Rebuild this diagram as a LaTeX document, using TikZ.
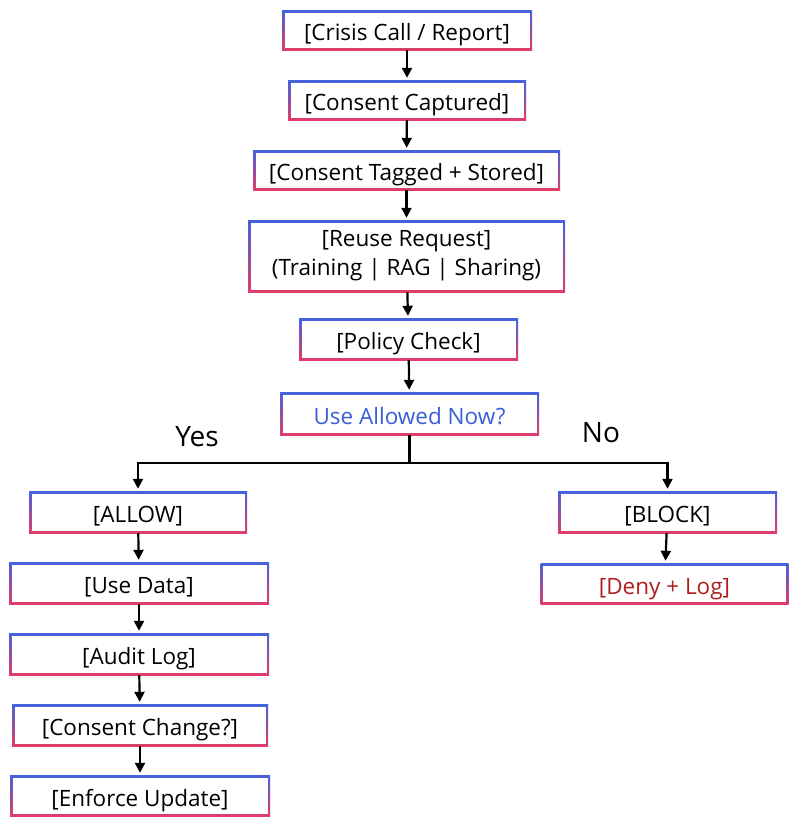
\documentclass[tikz,border=0pt]{standalone}
\usepackage{fontspec}
\setmainfont{Open Sans}
\usetikzlibrary{arrows.meta}
\definecolor{cblue}{RGB}{66,98,222}
\definecolor{cpink}{RGB}{226,60,104}
\definecolor{qblue}{RGB}{58,94,214}
\definecolor{dred}{RGB}{176,30,30}
\tikzset{
  gbox/.style={rectangle, inner sep=0pt, top color=cblue, bottom color=cpink,
    font=\fontsize{22.5}{29}\selectfont, align=center,
    path picture={\fill[white] ([shift={(2.5pt,-2.5pt)}]path picture bounding box.north west) rectangle ([shift={(-2.5pt,2.5pt)}]path picture bounding box.south east);}},
  one/.style={gbox, text height=21pt, text depth=0pt},
  arr/.style={line width=2.2pt, -{Stealth[length=10pt,width=10pt,inset=0pt]}, shorten >=2pt},
  lbl/.style={font=\fontsize{28}{32}\selectfont}
}
\begin{document}
\begin{tikzpicture}[x=1pt,y=-1pt]
\useasboundingbox (0,0) rectangle (789,817);
\node[one, minimum width=250, minimum height=40] (n1) at (407,30) {[Crisis Call / Report]};
\node[one, minimum width=238, minimum height=40] (n2) at (407,100) {[Consent Captured]};
\node[one, minimum width=307, minimum height=40] (n3) at (406.5,170) {[Consent Tagged + Stored]};
\node[gbox, minimum width=317, minimum height=72] (n4) at (406.5,256) {[Reuse Request]\\(Training | RAG | Sharing)};
\node[one, minimum width=219, minimum height=42] (n5) at (408.5,339) {[Policy Check]};
\node[one, minimum width=259, minimum height=43, text=qblue] (n6) at (409.5,413.5) {Use Allowed Now?};
\node[one, minimum width=218, minimum height=42] (allow) at (138,512) {[ALLOW]};
\node[one, minimum width=260, minimum height=42] (use) at (139,583) {[Use Data]};
\node[one, minimum width=260, minimum height=42] (audit) at (139,654) {[Audit Log]};
\node[one, minimum width=256, minimum height=42] (change) at (140,725) {[Consent Change?]};
\node[one, minimum width=260, minimum height=41] (enforce) at (140,795.5) {[Enforce Update]};
\node[one, minimum width=219, minimum height=42] (block) at (667.5,512) {[BLOCK]};
\node[one, minimum width=248, minimum height=41, text=dred] (deny) at (664.5,583.5) {[Deny + Log]};
\node[lbl] (yes) at (197,437) {Yes};
\node[lbl] (no) at (601,433) {No};
\draw[arr] (n1) -- (n2);
\draw[arr] (n2) -- (n3);
\draw[arr] (n3) -- (n4);
\draw[arr] (n4) -- (n5);
\draw[arr] (n5) -- (n6);
\coordinate (j) at (409.5,463);
\draw[line width=2.2pt] (n6.south) -- (j);
\draw[arr] (j) -| (allow.north);
\draw[arr] (j) -| (block.north);
\draw[arr] (allow) -- (use);
\draw[arr] (use) -- (audit);
\draw[arr] (audit) -- (change);
\draw[arr] (change) -- (enforce);
\draw[arr] (block) -- (deny);
\end{tikzpicture}
\end{document}
